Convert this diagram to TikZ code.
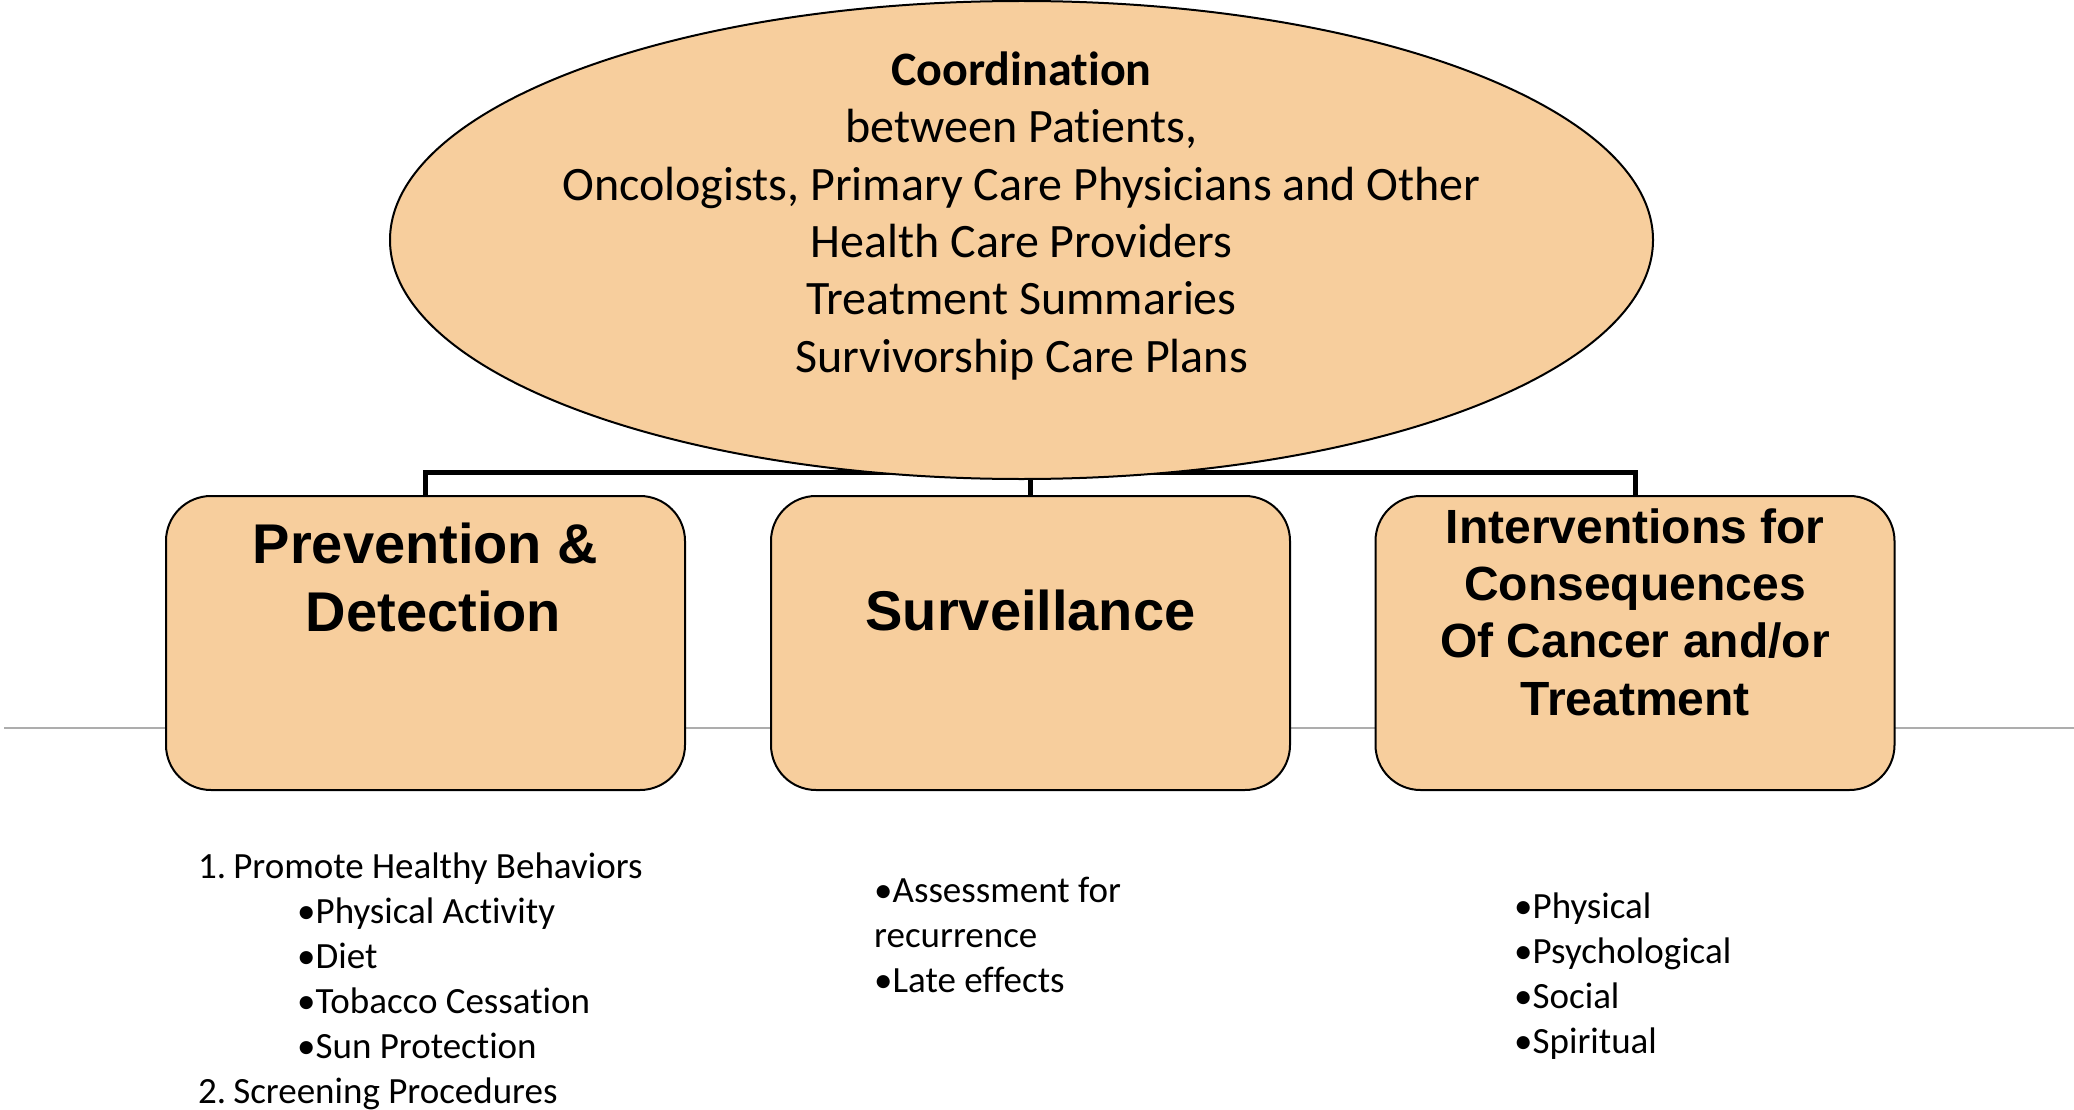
\documentclass[tikz,border=0pt]{standalone}
\usepackage{fontspec}
\setmainfont{Carlito}[Ligatures=NoCommon]
\newfontfamily\headfont{Liberation Sans}
\usetikzlibrary{shapes.geometric}
\definecolor{peach}{HTML}{F7CE9D}
\definecolor{rulegray}{HTML}{ADADAD}

\begin{document}
\begin{tikzpicture}[x=1pt,y=-1pt,
  box/.style={draw=black, line width=2pt, fill=peach, rounded corners=45pt,
    minimum width=519pt, minimum height=294pt, inner sep=0pt},
  hub/.style={ellipse, draw=black, line width=2pt, fill=peach,
    minimum width=1263pt, minimum height=478pt, inner sep=0pt},
  % multi-line nodes are placed by the baseline of their last line
  headbig/.style={font=\headfont\bfseries\fontsize{56}{68}\selectfont, align=center, inner sep=0pt, anchor=base},
  headsmall/.style={font=\headfont\bfseries\fontsize{48}{57.3}\selectfont, align=center, inner sep=0pt, anchor=base},
  hubtext/.style={font=\fontsize{48}{57.3}\selectfont, align=center, inner sep=0pt, anchor=base},
  listtext/.style={font=\fontsize{37}{45}\selectfont, align=left, inner sep=0pt, anchor=base west},
  bracket/.style={draw=black, line width=5pt}]

\useasboundingbox (0,0) rectangle (2074,1110);

% thin grey rule across the page
\coordinate (ruleL) at (4,728);
\coordinate (ruleR) at (2074,728);
\draw[rulegray, line width=2pt] (ruleL) -- (ruleR);

% the three boxes
\node[box] (pd) at (425.5,643) {};
\node[box] (sv) at (1030.5,643) {};
\node[box] (iv) at (1635,643) {};

% bracket joining the boxes to the top
\coordinate (bar) at (1030.5,472.5);
\draw[bracket] (pd.north) -- (pd.north |- bar) -- (iv.north |- bar) -- (iv.north);
\draw[bracket] (sv.north) -- (sv.north |- bar);

% coordination ellipse, drawn over the bracket
\node[hub] (hub) at (1021.5,240) {};
\node[hubtext] (hubtxt) at (1021.5,372) {\textbf{Coordination}\\between Patients,\\Oncologists, Primary Care Physicians and Other\\Health Care Providers\\Treatment Summaries\\Survivorship Care Plans};

% box titles
\node[headbig] (pdtitle) at (425.5,631) {Prevention \&\\\hspace*{16pt}Detection};
\node[headbig] (svtitle) at (1030.5,630) {Surveillance};
\node[headsmall] (ivtitle) at (1635,715) {Interventions for\\Consequences\\Of Cancer and/or\\Treatment};

% lists under the boxes
\node[listtext] (pdlist) at (198,1103) {1.\hspace{7pt}Promote Healthy Behaviors\\
  \hspace*{99pt}•Physical Activity\\
  \hspace*{99pt}•Diet\\
  \hspace*{99pt}•Tobacco Cessation\\
  \hspace*{99pt}•Sun Protection\\
  2.\hspace{7pt}Screening Procedures};
\node[listtext] (svlist) at (874,992) {•Assessment for\\recurrence\\•Late effects};
\node[listtext] (ivlist) at (1514,1053) {•Physical\\•Psychological\\•Social\\•Spiritual};
\end{tikzpicture}
\end{document}
